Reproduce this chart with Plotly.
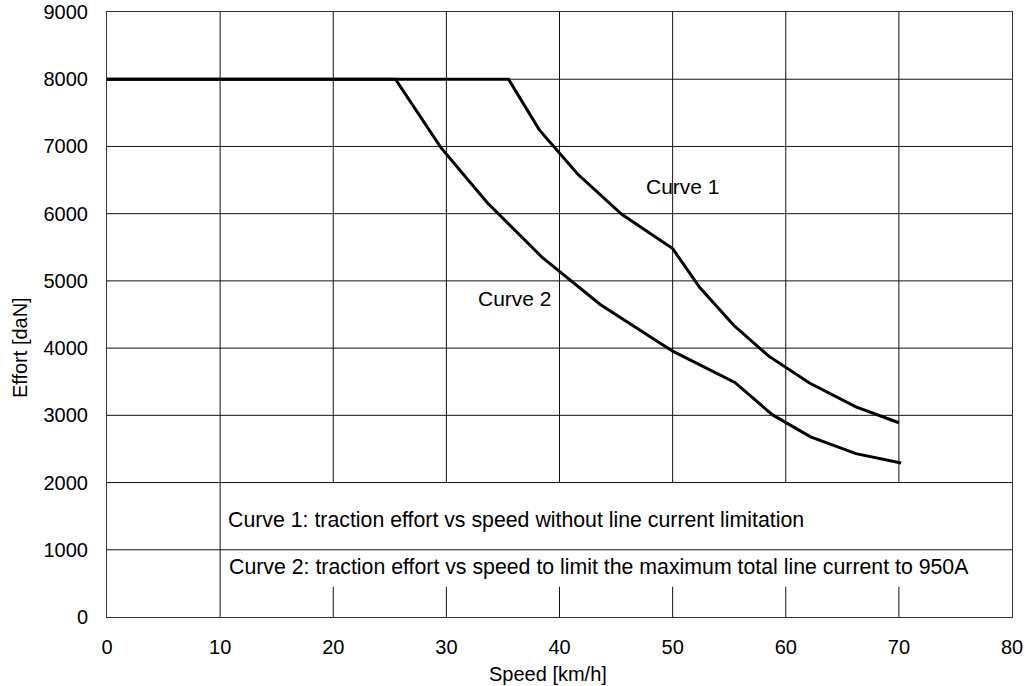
import plotly.graph_objects as go

# Data
curve1_speed = [0, 35.5, 38.2, 41.6, 45.5, 50.0, 52.4, 55.4, 58.5, 62.1, 66.2, 70.0]
curve1_effort = [8000, 8000, 7250, 6590, 5990, 5480, 4900, 4340, 3880, 3480, 3125, 2890]
curve2_speed = [0, 25.5, 29.5, 33.6, 38.5, 43.6, 50.0, 55.5, 58.8, 62.2, 66.2, 70.2]
curve2_effort = [8000, 8000, 6985, 6165, 5345, 4650, 3955, 3490, 3010, 2680, 2430, 2290]

x_ticks = [0, 10, 20, 30, 40, 50, 60, 70, 80]
y_ticks = [0, 1000, 2000, 3000, 4000, 5000, 6000, 7000, 8000, 9000]

x_title = "Speed [km/h]"
y_title = "Effort [daN]"
note1 = "Curve 1: traction effort vs speed without line current limitation"
note2 = "Curve 2: traction effort vs speed to limit the maximum total line current to 950A"

FONT = "Liberation Sans, Arial, sans-serif"
GRID = "#111111"

fig = go.Figure()
fig.add_trace(go.Scatter(x=curve1_speed, y=curve1_effort, mode="lines",
                         line=dict(color="black", width=3), showlegend=False))
fig.add_trace(go.Scatter(x=curve2_speed, y=curve2_effort, mode="lines",
                         line=dict(color="black", width=3), showlegend=False))

shapes = []
# horizontal grid lines
for yv in y_ticks[1:-1]:
    shapes.append(dict(type="line", xref="x", yref="y", x0=0, x1=80, y0=yv, y1=yv,
                       line=dict(color=GRID, width=1), layer="below"))
# vertical grid lines
for xv in x_ticks[1:-1]:
    if xv == 10:
        shapes.append(dict(type="line", xref="x", yref="y", x0=xv, x1=xv, y0=0, y1=9000,
                           line=dict(color=GRID, width=1), layer="below"))
    else:
        shapes.append(dict(type="line", xref="x", yref="y", x0=xv, x1=xv, y0=2000, y1=9000,
                           line=dict(color=GRID, width=1), layer="below"))
        shapes.append(dict(type="line", xref="x", yref="y", x0=xv, x1=xv, y0=0, y1=450,
                           line=dict(color=GRID, width=1), layer="below"))

annotations = [
    dict(x=50.9, y=6410, text="Curve 1", showarrow=False, xref="x", yref="y",
         font=dict(size=21, color="black", family=FONT)),
    dict(x=36.1, y=4735, text="Curve 2", showarrow=False, xref="x", yref="y",
         font=dict(size=21, color="black", family=FONT)),
    dict(x=10.5, y=1446, text=note1, showarrow=False, xref="x", yref="y", xanchor="left",
         font=dict(size=21.3, color="black", family=FONT)),
    dict(x=10.65, y=741, text=note2, showarrow=False, xref="x", yref="y", xanchor="left",
         font=dict(size=21.3, color="black", family=FONT)),
    # axis titles
    dict(x=39, y=0, xref="x", yref="paper", yanchor="middle", yshift=-57,
         text=x_title, showarrow=False, font=dict(size=20, color="black", family=FONT)),
    dict(x=0, y=4000, xref="paper", yref="y", xanchor="center", xshift=-87,
         textangle=-90, text=y_title, showarrow=False,
         font=dict(size=20, color="black", family=FONT)),
]

fig.update_layout(
    width=1025, height=686,
    margin=dict(l=107, r=13, t=12, b=69),
    paper_bgcolor="white", plot_bgcolor="white",
    font=dict(family=FONT, size=20, color="black"),
    shapes=shapes, annotations=annotations,
    xaxis=dict(range=[0, 80], tickvals=x_ticks, ticktext=[str(v) for v in x_ticks],
               showgrid=False, zeroline=False, showline=True, linecolor="#333333",
               linewidth=1, mirror=True, ticks="", ticklabelstandoff=12, automargin=False,
               tickfont=dict(size=20)),
    yaxis=dict(range=[0, 9000], tickvals=y_ticks, ticktext=[str(v) for v in y_ticks],
               showgrid=False, zeroline=False, showline=True, linecolor="#333333",
               linewidth=1, mirror=True, ticks="", ticklabelstandoff=14, automargin=False,
               tickfont=dict(size=20)),
)

fig.write_html("out.html")
